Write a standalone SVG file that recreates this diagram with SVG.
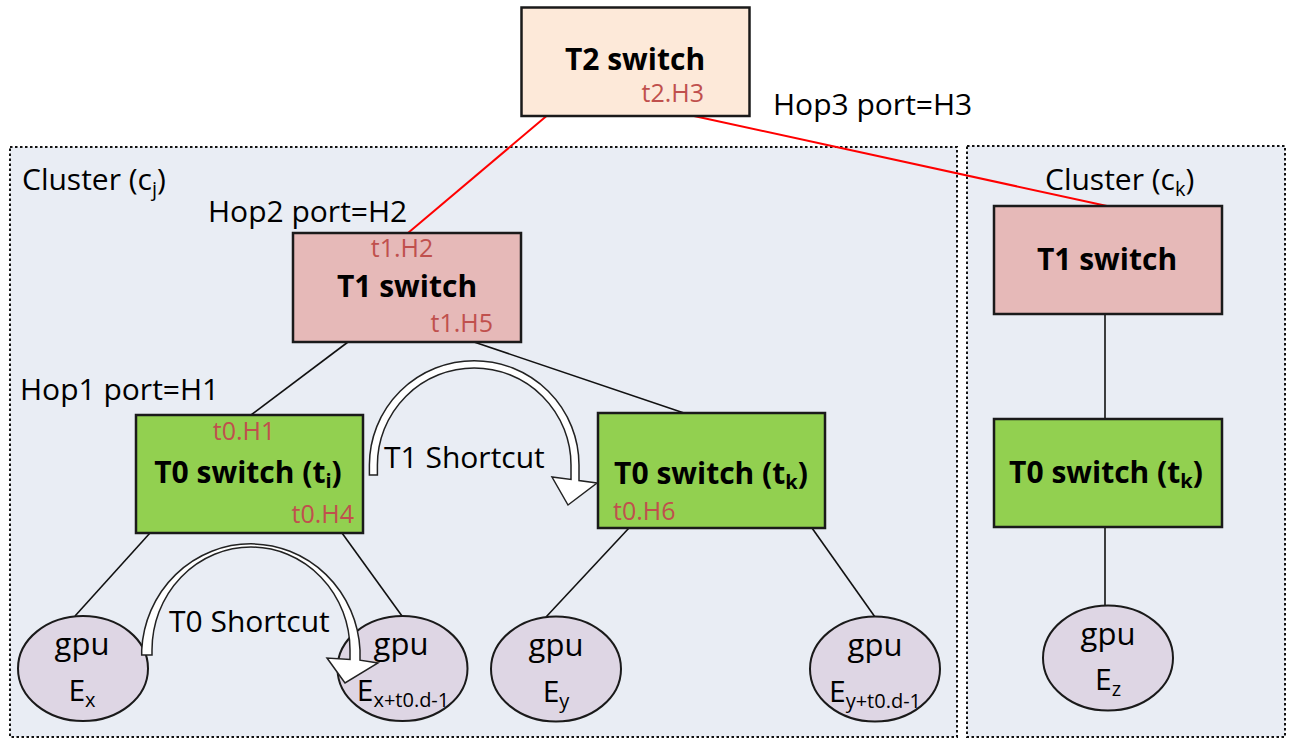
<svg xmlns="http://www.w3.org/2000/svg" width="1289" height="739" viewBox="0 0 1289 739">
<style>
text{font-family:"Open Sans","Liberation Sans",sans-serif;fill:#000}
.lbl{font-size:30px}
.gp{font-size:31px}
.sw{font-size:30px;font-weight:bold}
.port{font-size:25px;fill:#C0504D}
.cluster{fill:#E9EDF4;stroke:#111;stroke-width:2;stroke-dasharray:2.5 2.5}
.box{stroke:#1a1a1a;stroke-width:2.5}
.t2{fill:#FDE9D9}
.t1{fill:#E6B9B8}
.t0{fill:#92D050}
.gpu{fill:#DED6E4;stroke:#1a1a1a;stroke-width:2}
.link{stroke:#111;stroke-width:1.6;fill:none}
.up{stroke:#FF0000;stroke-width:2;fill:none}
.arrow{fill:#fff;stroke:#222;stroke-width:1.5;stroke-linejoin:miter}
.sub{font-size:20px}
</style>

<g id="cluster-cj">
<rect class="cluster" x="10" y="147" width="947" height="590"/>
<text class="lbl" x="22" y="190">Cluster (c<tspan class="sub" dy="6">j</tspan><tspan dy="-6">)</tspan></text>
</g>
<g id="cluster-ck">
<rect class="cluster" x="967" y="146" width="318" height="591"/>
<text class="lbl" x="1045" y="190">Cluster (c<tspan class="sub" dy="6">k</tspan><tspan dy="-6">)</tspan></text>
</g>

<g id="connectors">
<line class="up" x1="546.5" y1="116" x2="408" y2="233"/>
<line class="up" x1="694" y1="116" x2="1107" y2="206"/>
<line class="link" x1="348" y1="342" x2="251" y2="415"/>
<line class="link" x1="474" y1="342" x2="684" y2="413"/>
<line class="link" x1="150" y1="533" x2="75" y2="616"/>
<line class="link" x1="342" y1="533" x2="402" y2="616"/>
<line class="link" x1="629" y1="528" x2="546" y2="617"/>
<line class="link" x1="812" y1="528" x2="875" y2="617"/>
<line class="link" x1="1105" y1="314" x2="1105" y2="419"/>
<line class="link" x1="1105" y1="527" x2="1105" y2="606"/>
</g>

<g id="t2-switch">
<rect class="box t2" x="521.5" y="7.5" width="228" height="108.5"/>
<text class="sw" x="635" y="70" text-anchor="middle">T2 switch</text>
<text class="port" x="704" y="102" text-anchor="end">t2.H3</text>
</g>

<g id="t1-switch-cj">
<rect class="box t1" x="293" y="233" width="228" height="109"/>
<text class="port" x="402" y="257" text-anchor="middle">t1.H2</text>
<text class="sw" x="407" y="297" text-anchor="middle">T1 switch</text>
<text class="port" x="493" y="332" text-anchor="end">t1.H5</text>
</g>

<g id="t1-switch-ck">
<rect class="box t1" x="994" y="206" width="228" height="108"/>
<text class="sw" x="1107" y="270" text-anchor="middle">T1 switch</text>
</g>

<g id="t0-switch-ti">
<rect class="box t0" x="136" y="415" width="227" height="118"/>
<text class="port" x="244" y="440" text-anchor="middle">t0.H1</text>
<text class="sw" x="248" y="483" text-anchor="middle">T0 switch (t<tspan class="sub" dy="5">i</tspan><tspan dy="-5">)</tspan></text>
<text class="port" x="354" y="523" text-anchor="end">t0.H4</text>
</g>

<g id="t0-switch-tk">
<rect class="box t0" x="598" y="413" width="227" height="115"/>
<text class="sw" x="711" y="484" text-anchor="middle">T0 switch (t<tspan class="sub" dy="5">k</tspan><tspan dy="-5">)</tspan></text>
<text class="port" x="613" y="520">t0.H6</text>
</g>

<g id="t0-switch-ck">
<rect class="box t0" x="994" y="419" width="228" height="108"/>
<text class="sw" x="1106" y="483" text-anchor="middle">T0 switch (t<tspan class="sub" dy="5">k</tspan><tspan dy="-5">)</tspan></text>
</g>

<g id="gpu-ex">
<ellipse class="gpu" cx="83" cy="668.5" rx="65" ry="52.5"/>
<text class="gp" x="82" y="655" text-anchor="middle">gpu</text>
<text class="lbl" x="82" y="701" text-anchor="middle">E<tspan class="sub" dy="6">x</tspan></text>
</g>

<g id="gpu-ex-last">
<ellipse class="gpu" cx="402.5" cy="668.5" rx="65" ry="52.5"/>
</g>

<g id="gpu-ey">
<ellipse class="gpu" cx="556" cy="669" rx="65" ry="52.5"/>
<text class="gp" x="556" y="656" text-anchor="middle">gpu</text>
<text class="lbl" x="556" y="702" text-anchor="middle">E<tspan class="sub" dy="6">y</tspan></text>
</g>

<g id="gpu-ey-last">
<ellipse class="gpu" cx="875" cy="669" rx="65" ry="52.5"/>
<text class="gp" x="875" y="656" text-anchor="middle">gpu</text>
<text class="lbl" x="875" y="702" text-anchor="middle">E<tspan class="sub" dy="6">y+t0.d-1</tspan></text>
</g>

<g id="gpu-ez">
<ellipse class="gpu" cx="1108" cy="658" rx="65" ry="52.5"/>
<text class="gp" x="1108" y="645" text-anchor="middle">gpu</text>
<text class="lbl" x="1108" y="690" text-anchor="middle">E<tspan class="sub" dy="6">z</tspan></text>
</g>

<g id="shortcuts">
<path class="arrow" d="M141.7 655 L141.7 650 A109.3 112 0 0 1 360 650 L360 660.2 L378 663 L345 683 L327 658 L350 659.4 L350 650 A99 103 0 0 0 152 650 L152 655 Z"/>
<path class="arrow" d="M369.4 475 L369.4 465 A104.8 104.3 0 0 1 579 465 L579 480.6 L597 483 L568 505 L552 477 L571 479.5 L571 465 A96.8 97 0 0 0 377.4 465 L377.4 475 Z"/>
<text class="lbl" x="384" y="468">T1 Shortcut</text>
<text class="lbl" x="169" y="632">T0 Shortcut</text>
</g>

<g id="gpu-ex-last-label">
<text class="gp" x="401" y="655" text-anchor="middle">gpu</text>
<text class="lbl" x="403" y="701" text-anchor="middle">E<tspan class="sub" dy="6">x+t0.d-1</tspan></text>
</g>

<g id="hop-labels">
<text class="lbl" x="773" y="115">Hop3 port=H3</text>
<text class="lbl" x="208" y="222">Hop2 port=H2</text>
<text class="lbl" x="20" y="400">Hop1 port=H1</text>
</g>
</svg>
